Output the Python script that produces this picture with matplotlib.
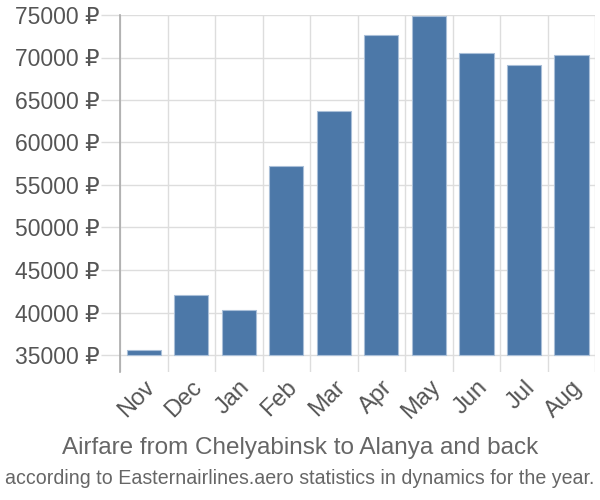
import matplotlib
matplotlib.use("Agg")
import matplotlib.pyplot as plt
from matplotlib.ticker import FuncFormatter

months = ["Nov", "Dec", "Jan", "Feb", "Mar", "Apr", "May", "Jun", "Jul", "Aug"]
prices = [35600, 42100, 40300, 57200, 63700, 72650, 74850, 70500, 69100, 70300]
yticks = [35000, 40000, 45000, 50000, 55000, 60000, 65000, 70000, 75000]
base = 35000

plt.rcParams['font.family'] = ['Liberation Sans', 'DejaVu Sans']

fig = plt.figure(figsize=(6, 5), dpi=100)
ax = fig.add_axes([0.2, 0.256, 0.792, 0.714])

x = list(range(len(months)))
ax.bar(x, [p - base for p in prices], bottom=base, width=0.72,
       color="#4c78a8", edgecolor="#a9bfd8", linewidth=0.8, zorder=3)

ax.set_xlim(-0.5, len(months) - 0.5)
ax.set_ylim(33000, 75000)
ax.set_yticks(yticks)
ax.yaxis.set_major_formatter(FuncFormatter(lambda v, p: f"{int(v)} ₽"))
ax.set_xticks([i - 0.5 for i in range(len(months) + 1)], minor=False)
ax.set_xticklabels([""] * (len(months) + 1))
ax.set_xticks(x, minor=True)
ax.set_xticklabels(months, minor=True, rotation=45, ha="right", va="top",
                   rotation_mode="anchor", fontsize=17, color="#555555")
ax.tick_params(axis="x", which="minor", length=0, pad=3)
ax.tick_params(axis="x", which="major", length=0)
ax.tick_params(axis="y", length=14, color="#dddddd", width=1,
               labelsize=16.5, labelcolor="#555555", pad=1)

ax.grid(True, axis="both", which="major", color="#dddddd", linewidth=1, zorder=0)
for s in ["top", "right", "bottom"]:
    ax.spines[s].set_visible(False)
ax.spines["left"].set_color("#aaaaaa")
ax.spines["left"].set_linewidth(1.2)

fig.text(0.5, 0.104, "Airfare from Chelyabinsk to Alanya and back",
         ha="center", va="center", fontsize=17.5, color="#666666")
fig.text(0.5, 0.044, "according to Easternairlines.aero statistics in dynamics for the year.",
         ha="center", va="center", fontsize=14.1, color="#666666")

fig.savefig("out.png", dpi=100)
